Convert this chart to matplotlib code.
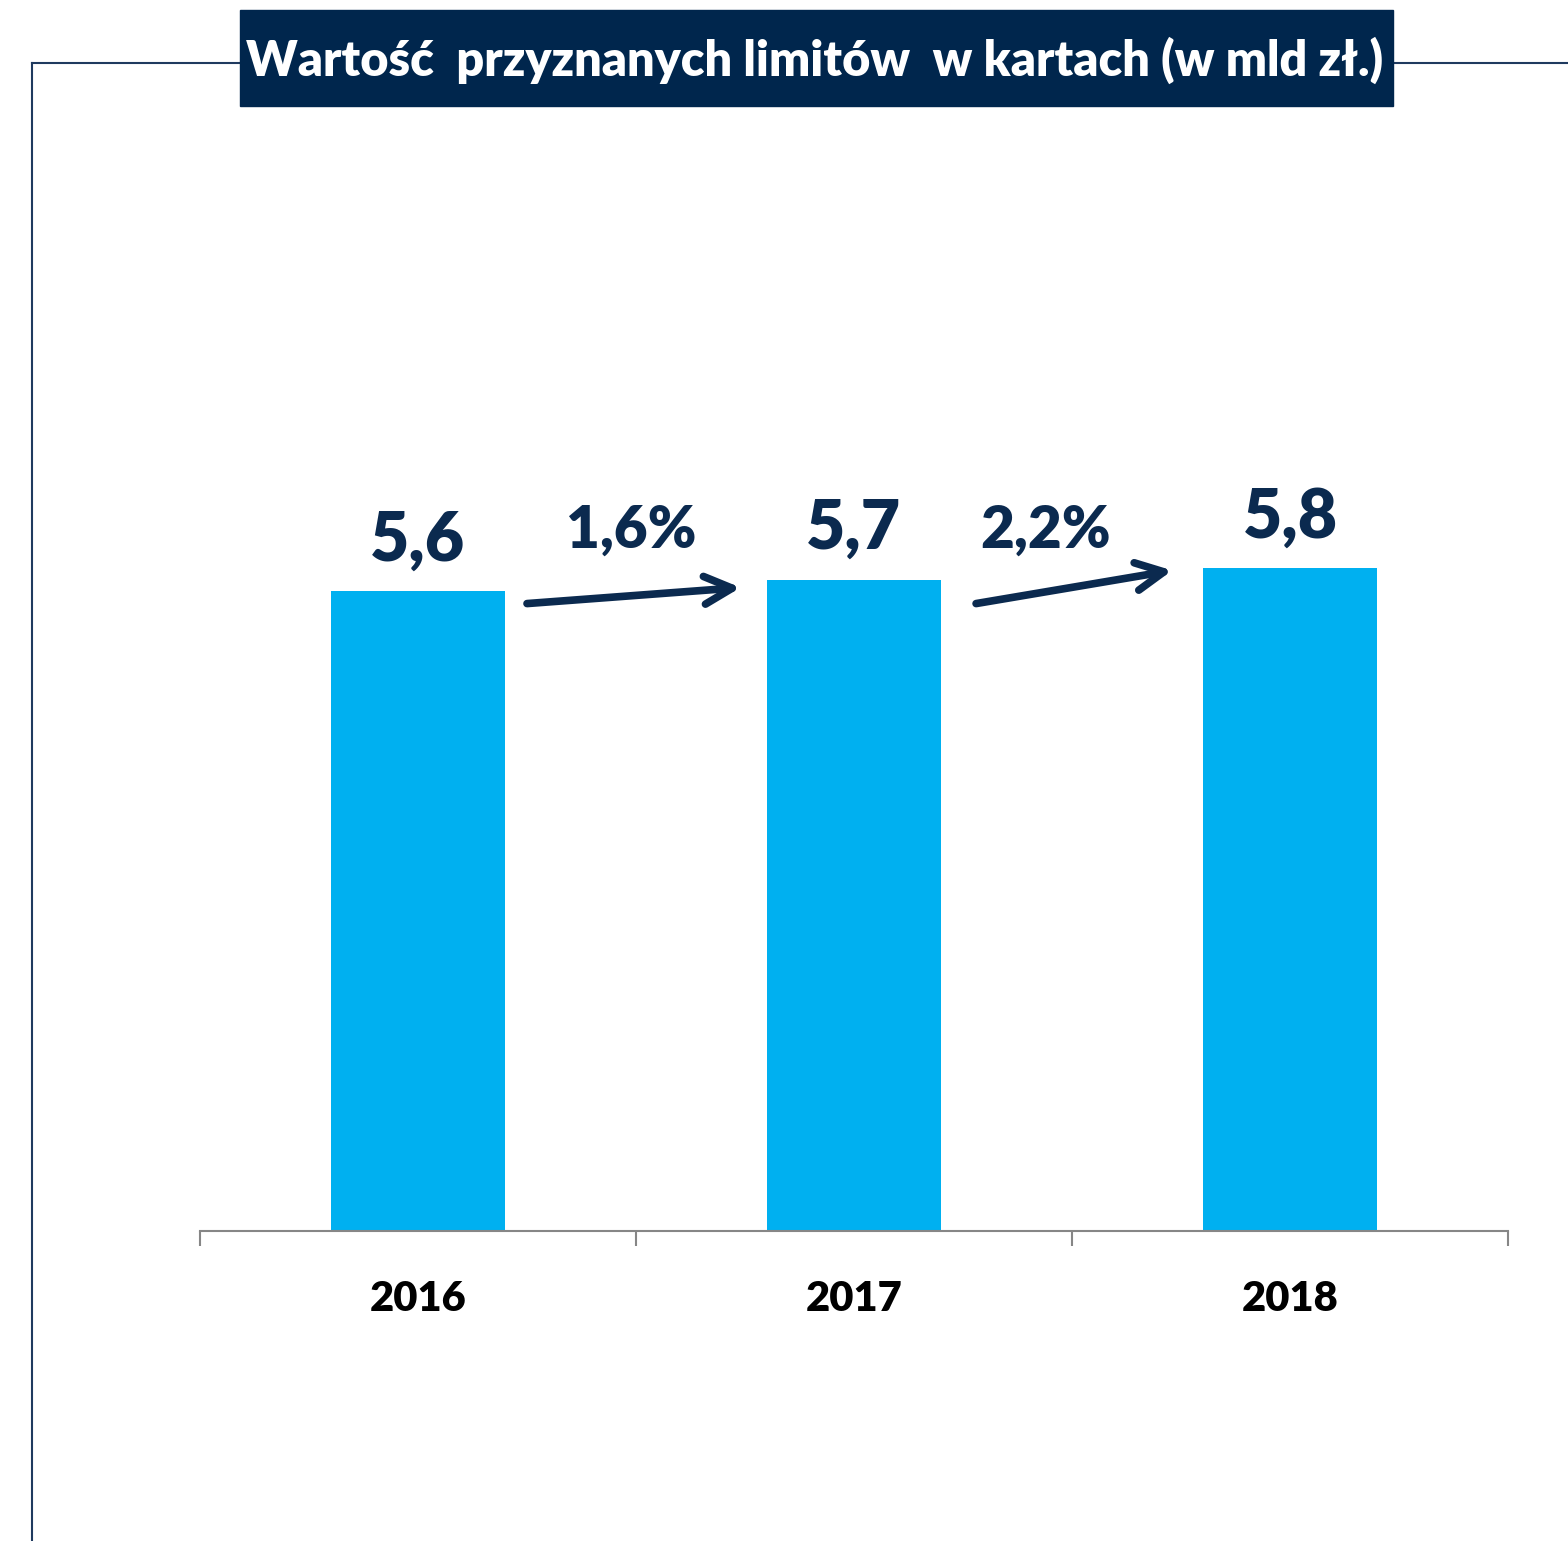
import matplotlib.pyplot as plt
from matplotlib.lines import Line2D
from matplotlib.patches import Rectangle

plt.rcParams['font.family'] = ['Lato', 'DejaVu Sans']

years = ['2016', '2017', '2018']
values = [5.6, 5.7, 5.8]
value_labels = ['5,6', '5,7', '5,8']
growth_labels = ['1,6%', '2,2%']
title = 'Wartość  przyznanych limitów  w kartach (w mld zł.)'

navy = '#0B2A4F'
bar_color = '#00B0F0'

W, H = 1568, 1541
fig = plt.figure(figsize=(W / 100, H / 100), dpi=100)

# outer frame lines
fig.add_artist(Line2D([32 / W, 32 / W], [0, 1 - 63 / H], transform=fig.transFigure,
                      color='#1F3A5F', lw=1.5))
fig.add_artist(Line2D([32 / W, 1], [1 - 63 / H, 1 - 63 / H], transform=fig.transFigure,
                      color='#1F3A5F', lw=1.5))

# title box
fig.add_artist(Rectangle((240 / W, 1 - 106 / H), (1393 - 240) / W, 96 / H,
                         transform=fig.transFigure, color='#00264D', zorder=3))
fig.text(815 / W, 1 - 60 / H, title, ha='center', va='center', color='white',
         fontsize=35, fontweight='heavy', zorder=4)

ax = fig.add_axes([200 / W, 310 / H, 1308 / W, 800 / H])
x = list(range(len(years)))
bars = ax.bar(x, values, width=0.4, color=bar_color)
ax.set_xlim(-0.5, len(years) - 0.5)
ax.set_ylim(0, 7)

for spine in ['top', 'right', 'left']:
    ax.spines[spine].set_visible(False)
ax.spines['bottom'].set_color('#868686')
ax.spines['bottom'].set_linewidth(1.5)
ax.set_yticks([])
ax.set_xticks(x)
ax.set_xticklabels(years, fontsize=30, fontweight='heavy')
ax.tick_params(axis='x', which='major', length=0, pad=35)
ax.set_xticks([i - 0.5 for i in range(len(years) + 1)], minor=True)
ax.tick_params(axis='x', which='minor', length=11, width=1.5, color='#868686')

for xi, v, lab in zip(x, values, value_labels):
    ax.annotate(lab, (xi, v), xytext=(0, 22), textcoords='offset points',
                ha='center', va='baseline', fontsize=49, fontweight='heavy', color=navy)

# growth arrows between bars
arrow_start = [(0.25, values[0] - 0.11), (1.28, values[1] - 0.21)]
arrow_end = [(0.74, values[1] - 0.07), (1.73, values[2] - 0.02)]
label_x = [0.49, 1.44]
for (x0, y0), (x1, y1), lx, lab in zip(arrow_start, arrow_end, label_x, growth_labels):
    ax.annotate('', xy=(x1, y1), xytext=(x0, y0),
                arrowprops=dict(arrowstyle='->,head_length=2.0,head_width=1.0',
                                color=navy, lw=5.5, shrinkA=0, shrinkB=0))
    ax.text(lx, 6.13, lab, ha='center', va='center',
            fontsize=42, fontweight='heavy', color=navy)

fig.savefig('out.png', dpi=100)
